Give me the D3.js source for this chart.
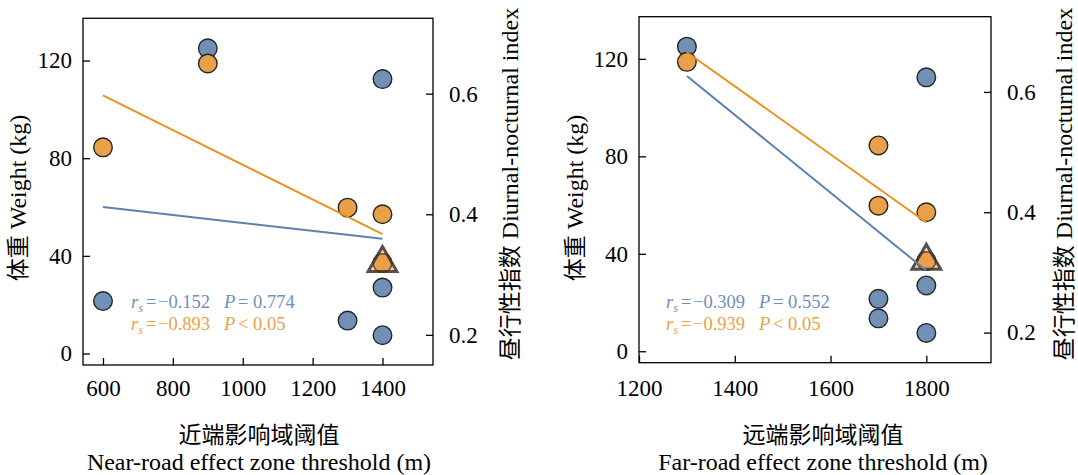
<!DOCTYPE html>
<html>
<head>
<meta charset="utf-8">
<script src="https://cdn.jsdelivr.net/npm/d3@7"></script>
<style>
body { margin: 0; background: #fff; }
svg { display: block; }
text, tspan { font-family: "Liberation Serif", "Times New Roman", serif; }
.cjk { font-family: "Noto Sans CJK SC", sans-serif; }
</style>
</head>
<body>
<svg id="chart" width="1078" height="475"></svg>
<script>
// one entry per animal
var nearThreshold = [600, 900, 1300, 1400, 1400, 1400];
var farThreshold  = [1700, 1300, 1700, 1800, 1800, 1800];
var weightKg      = [21.5, 125, 13.5, 112.4, 27, 7.5];
var diurnalIndex  = [0.511, 0.650, 0.411, 0.400, 0.319, 0.319];
var markedAnimal  = 5; // drawn with the triangle

// fitted lines: [threshold, value]
var nearFitWeight = [[600, 60.0], [1400, 47.0]];
var nearFitIndex  = [[600, 0.597], [1400, 0.367]];
var farFitWeight  = [[1300, 113.0], [1800, 33.1]];
var farFitIndex   = [[1300, 0.666], [1800, 0.383]];

var weightTicks = [0, 40, 80, 120];
var indexTicks  = [0.2, 0.4, 0.6];
var nearTicks   = [600, 800, 1000, 1200, 1400];
var farTicks    = [1200, 1400, 1600, 1800];

var nearRs = ["\u22120.152", "\u22120.893"];
var nearP  = ["= 0.774", "< 0.05"];
var farRs  = ["\u22120.309", "\u22120.939"];
var farP   = ["= 0.552", "< 0.05"];

var blue = "#7190b6", orange = "#e9a049";
var blueLine = "#5e82af", orangeLine = "#e8921f";
var blueText = "#6f8fb8", orangeText = "#eda045";

var serif = "'Liberation Serif', 'Times New Roman', serif";

var svg = d3.select("#chart");

// text with a chinese part and a latin part in their own fonts
function mixedText(g, cn, en, size) {
	var t = g.append("text").attr("font-size", size);
	t.append("tspan").attr("class", "cjk").attr("font-size", size - 1).text(cn);
	t.append("tspan").style("font-family", serif).text(en);
	return t;
}

function drawPanel(o) {
	var x = d3.scaleLinear().domain(o.xDomain).range([o.left, o.right]);
	var yW = d3.scaleLinear().domain([-4.7, 137.3]).range([o.bottom, o.top]);
	var yI = d3.scaleLinear().domain([0.150, 0.725]).range([o.bottom, o.top]);
	var g = svg.append("g");

	var ax = g.append("g")
		.attr("transform", "translate(0," + o.bottom + ")")
		.call(d3.axisBottom(x).tickValues(o.xTicks).tickFormat(d3.format("d")).tickSize(-7).tickPadding(o.xPad));
	var al = g.append("g")
		.attr("transform", "translate(" + o.left + ",0)")
		.call(d3.axisLeft(yW).tickValues(weightTicks).tickSize(-7).tickPadding(11));
	var ar = g.append("g")
		.attr("transform", "translate(" + o.right + ",0)")
		.call(d3.axisRight(yI).tickValues(indexTicks).tickFormat(d3.format(".1f")).tickSize(-7).tickPadding(16));
	[ax, al, ar].forEach(function(a) {
		a.attr("font-family", null).attr("font-size", 23);
		a.select(".domain").remove();
		a.selectAll("line").attr("stroke", "#000").attr("stroke-width", 1.3);
		a.selectAll("text").attr("fill", "#000").style("font-family", serif);
	});

	g.append("rect")
		.attr("x", o.left).attr("y", o.top)
		.attr("width", o.right - o.left).attr("height", o.bottom - o.top)
		.attr("fill", "none").attr("stroke", "#000").attr("stroke-width", 1.3);

	var idx = d3.range(weightKg.length);

	g.selectAll(".wpt").data(idx).enter().append("circle")
		.attr("cx", function(i) { return x(o.xs[i]); })
		.attr("cy", function(i) { return yW(weightKg[i]); })
		.attr("r", 9.3)
		.attr("fill", blue).attr("stroke", "#262626").attr("stroke-width", 1.4);

	g.selectAll(".ipt").data(idx).enter().append("circle")
		.attr("cx", function(i) { return x(o.xs[i]); })
		.attr("cy", function(i) { return yI(diurnalIndex[i]); })
		.attr("r", 9.3)
		.attr("fill", orange).attr("stroke", "#262626").attr("stroke-width", 1.4);

	g.append("path")
		.attr("d", d3.symbol(d3.symbolTriangle, 360)())
		.attr("transform", "translate(" + x(o.xs[markedAnimal]) + "," + yI(diurnalIndex[markedAnimal]) + ")")
		.attr("fill", orange).attr("fill-opacity", 0.4)
		.attr("stroke", "#3b3330").attr("stroke-opacity", 0.85).attr("stroke-width", 3)
		.attr("stroke-linejoin", "miter");

	g.append("path").datum(o.fitW)
		.attr("d", d3.line().x(function(d) { return x(d[0]); }).y(function(d) { return yW(d[1]); }))
		.attr("fill", "none").attr("stroke", blueLine).attr("stroke-width", 2);
	g.append("path").datum(o.fitI)
		.attr("d", d3.line().x(function(d) { return x(d[0]); }).y(function(d) { return yI(d[1]); }))
		.attr("fill", "none").attr("stroke", orangeLine).attr("stroke-width", 2);

	// correlation notes
	[0, 1].forEach(function(k) {
		var col = k == 0 ? blueText : orangeText;
		var by = 308 + k * 22;
		var t = g.append("text").attr("y", by).attr("font-size", 18.5).attr("fill", col);
		t.append("tspan").attr("x", o.noteX).attr("font-style", "italic").text("r");
		t.append("tspan").attr("font-style", "italic").attr("font-size", 12.5).attr("dy", 4).text("s");
		t.append("tspan").attr("x", o.noteX + 15).attr("dy", -4).text("=");
		t.append("tspan").attr("x", o.noteX + 27).text(o.rs[k]);
		t.append("tspan").attr("x", o.noteX + 93).attr("font-style", "italic").text("P");
		t.append("tspan").attr("x", o.noteX + 107).text(o.p[k]);
	});

	mixedText(g, "体重", " Weight (kg)", 24)
		.attr("transform", "translate(" + o.leftTitleX + ",198) rotate(-90)")
		.attr("text-anchor", "middle").attr("dy", "0.35em");
	mixedText(g, "昼行性指数", " Diurnal-nocturnal index", 24)
		.attr("transform", "translate(" + (o.right + o.rightTitleGap) + ",184) rotate(-90)")
		.attr("text-anchor", "middle").attr("dy", "0.35em");

	g.append("text")
		.attr("class", "cjk")
		.attr("x", o.titleX).attr("y", 443)
		.attr("text-anchor", "middle").attr("font-size", 23)
		.text(o.cnTitle);
	g.append("text")
		.attr("x", o.titleX).attr("y", 470)
		.attr("text-anchor", "middle").attr("font-size", 24)
		.text(o.enTitle);
}

drawPanel({
	left: 83, right: 433, top: 18.3, bottom: 365,
	xDomain: [542.8, 1544.5], xTicks: nearTicks, xs: nearThreshold, xPad: 15,
	fitW: nearFitWeight, fitI: nearFitIndex,
	rs: nearRs, p: nearP, noteX: 131,
	leftTitleX: 18, rightTitleGap: 77, titleX: 259,
	cnTitle: "近端影响域阈值", enTitle: "Near-road effect zone threshold (m)"
});

drawPanel({
	left: 639, right: 991, top: 16.7, bottom: 362.7,
	xDomain: [1200, 1935], xTicks: farTicks, xs: farThreshold, xPad: 17,
	fitW: farFitWeight, fitI: farFitIndex,
	rs: farRs, p: farP, noteX: 666,
	leftTitleX: 574.5, rightTitleGap: 72.5, titleX: 823,
	cnTitle: "远端影响域阈值", enTitle: "Far-road effect zone threshold (m)"
});
</script>
</body>
</html>
